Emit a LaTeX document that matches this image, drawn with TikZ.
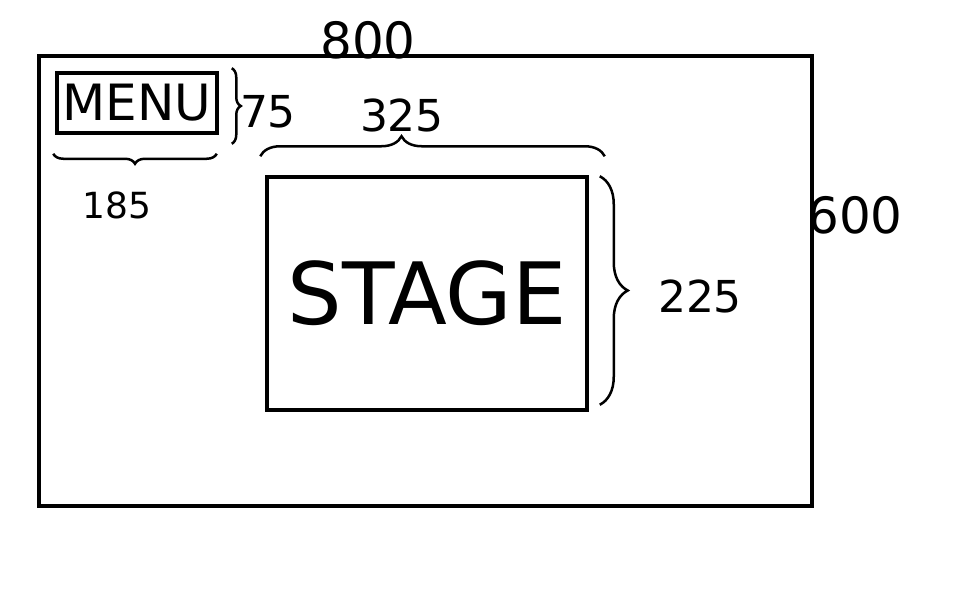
\documentclass[tikz,border=0pt]{standalone}
\usepackage{fontspec}
\setmainfont{DejaVu Sans}
\usetikzlibrary{calc, positioning, decorations.pathreplacing}

\begin{document}
\begin{tikzpicture}[x=1pt, y=-1pt,
    box/.style={draw, line width=3.5pt, inner sep=0pt},
    brc/.style={line width=2.5pt, decorate, decoration={brace, amplitude=#1}},
    brc/.default=10pt,
    num/.style={inner sep=0pt, font=\fontsize{44}{48}\selectfont}]

\useasboundingbox (0,0) rectangle (960,599);

% boxes
\node[box, line width=4pt, minimum width=773pt, minimum height=450pt] (screen) at (425.5,281) {};
\node[box, minimum width=160pt, minimum height=60pt, font=\fontsize{50}{54}\selectfont] (menu) at (137,103) {MENU};
\node[box, minimum width=320pt, minimum height=233pt, font=\fontsize{86}{90}\selectfont] (stage) at (427,293.5) {STAGE};

% braces
\draw[brc=9pt] ([shift={(13,-3)}]menu.north east) -- ([shift={(13,9)}]menu.south east);
\draw[brc] ([shift={(-2,19)}]menu.south east) -- ([shift={(-2,19)}]menu.south west);
\draw[brc=20pt, decoration={aspect=0.41}] ($(stage.north west)+(-5,-19)$) -- ($(stage.north east)+(16,-19)$);
\draw[brc=28pt] ([shift={(11,1)}]stage.north east) -- ([shift={(11,-7)}]stage.south east);

% sizes
\node[num, font=\fontsize{50}{54}\selectfont] (w) at (368,40) {800};
\node[num, font=\fontsize{50}{54}\selectfont] (h) at (855,215) {600};
\node[num] (menuh) at (268,112) {75};
\node[num, font=\fontsize{36}{40}\selectfont] (menuw) at (117,205) {185};
\node[num] (stagew) at (402,115) {325};
\node[num] (stageh) at (700,296) {225};

\end{tikzpicture}
\end{document}
